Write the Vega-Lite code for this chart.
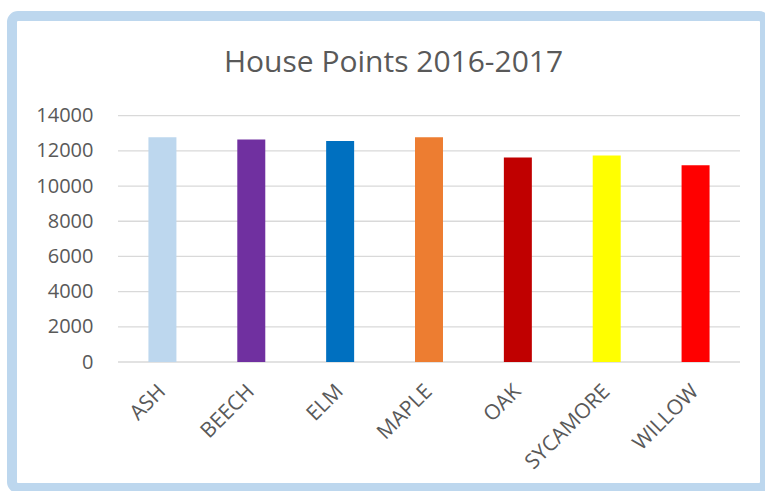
{
  "$schema": "https://vega.github.io/schema/vega-lite/v6.json",
  "width": 753,
  "height": 472,
  "autosize": {"type": "none"},
  "padding": {"left": 12, "top": 16, "right": 0, "bottom": 3},
  "background": "white",
  "config": {
    "view": {"fill": "white", "stroke": "#BDD7EE", "strokeWidth": 10, "cornerRadius": 6},
    "font": "Open Sans"
  },
  "title": {
    "text": "House Points 2016-2017",
    "font": "Open Sans",
    "fontSize": 30,
    "fontWeight": "normal",
    "color": "#595959",
    "anchor": "middle",
    "frame": "group",
    "baseline": "alphabetic",
    "offset": -86,
    "dx": 5
  },
  "datasets": {
    "houses": [
      {"house": "ASH", "points": 12770, "color": "#BDD7EE"},
      {"house": "BEECH", "points": 12650, "color": "#7030A0"},
      {"house": "ELM", "points": 12560, "color": "#0070C0"},
      {"house": "MAPLE", "points": 12770, "color": "#ED7D31"},
      {"house": "OAK", "points": 11630, "color": "#C00000"},
      {"house": "SYCAMORE", "points": 11740, "color": "#FFFF00"},
      {"house": "WILLOW", "points": 11180, "color": "#FF0000"}
    ],
    "ticks": [
      {"v": 0}, {"v": 2000}, {"v": 4000}, {"v": 6000}, {"v": 8000}, {"v": 10000}, {"v": 12000}, {"v": 14000}
    ]
  },
  "layer": [
    {
      "data": {"name": "ticks"},
      "mark": {"type": "rule", "color": "#D9D9D9", "strokeWidth": 1.3},
      "encoding": {
        "y": {"field": "v", "type": "quantitative"},
        "x": {"datum": "ASH", "type": "nominal", "bandPosition": 0},
        "x2": {"datum": "WILLOW", "bandPosition": 1}
      }
    },
    {
      "data": {"name": "houses"},
      "mark": {"type": "bar", "width": {"band": 0.315}},
      "encoding": {
        "x": {
          "field": "house",
          "type": "nominal",
          "sort": null,
          "scale": {
            "domain": ["ASH", "BEECH", "ELM", "MAPLE", "OAK", "SYCAMORE", "WILLOW"],
            "range": [106, 728],
            "paddingInner": 0,
            "paddingOuter": 0
          },
          "axis": {
            "title": null,
            "orient": "bottom",
            "offset": -126,
            "labelAngle": -45,
            "labelPadding": 26,
            "labelFontSize": 21,
            "labelColor": "#595959",
            "labelFont": "Open Sans",
            "domain": false,
            "ticks": false,
            "grid": false
          }
        },
        "y": {
          "field": "points",
          "type": "quantitative",
          "scale": {"domain": [0, 14000], "range": [346, 99.7], "nice": false},
          "axis": {
            "title": null,
            "orient": "left",
            "offset": -81,
            "values": [0, 2000, 4000, 6000, 8000, 10000, 12000, 14000],
            "format": "d",
            "labelPadding": 0,
            "labelFontSize": 20,
            "labelColor": "#595959",
            "labelFont": "Open Sans",
            "domain": false,
            "ticks": false,
            "grid": false
          }
        },
        "color": {"field": "color", "type": "nominal", "scale": null, "legend": null}
      }
    }
  ]
}
